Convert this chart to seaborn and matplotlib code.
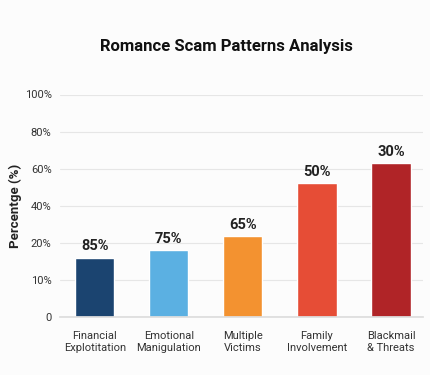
import numpy as np
import pandas as pd
import matplotlib
matplotlib.use("Agg")
import matplotlib.pyplot as plt
import seaborn as sns

categories = ["Financial\nExplotitation", "Emotional\nManigulation", "Multiple\nVictims",
              "Family\nInvolvement", "Blackmail\n& Threats"]
values = [16, 18, 23.4, 52, 63]
bar_labels = ["85%", "75%", "65%", "50%", "30%"]
colors = ["#1b4470", "#5bb0e2", "#f39230", "#e64d36", "#b02427"]
tick_values = [0, 10, 20, 40, 60, 80, 100]
tick_labels = ["0", "10%", "20%", "40%", "60%", "80%", "100%"]

sns.set_theme(style="white")
plt.rcParams['font.family'] = ['Roboto', 'DejaVu Sans']

df = pd.DataFrame({"cat": categories, "val": values})

fig = plt.figure(figsize=(4.31, 3.75), dpi=100)
fig.patch.set_facecolor("#fcfcfc")
ax = fig.add_axes([0.139, 0.155, 0.842, 0.593])
ax.set_facecolor("#fcfcfc")

pos = np.arange(len(tick_values), dtype=float)
tv = np.array(tick_values, dtype=float)

def fwd(v):
    return np.interp(v, tv, pos)

def inv(p):
    return np.interp(p, pos, tv)

ax.set_yscale("function", functions=(fwd, inv))

sns.barplot(data=df, x="cat", y="val", hue="cat", palette=colors, legend=False,
            width=0.53, ax=ax, saturation=1)

ax.set_ylim(0, 100.5)
ax.set_xlim(-0.47, 4.43)
ax.set_yticks(tick_values)
ax.set_yticklabels(tick_labels)
ax.yaxis.set_minor_locator(matplotlib.ticker.NullLocator())
ax.grid(axis="y", color="#e6e6e6", linewidth=0.8)
ax.set_axisbelow(True)
for s in ["top", "right", "left"]:
    ax.spines[s].set_visible(False)
ax.spines["bottom"].set_color("#dddddd")
ax.tick_params(axis="y", length=0, labelsize=8, colors="#333333", pad=6)
ax.tick_params(axis="x", length=0, labelsize=8, colors="#333333", pad=10)
ax.set_xticks(range(len(categories)))
ax.set_xticklabels(categories, linespacing=1.3)
ax.set_xticks(np.arange(0.5, len(categories) - 1, 1), minor=True)
ax.tick_params(axis="x", which="minor", length=3, color="#dddddd")

for i, (v, lab) in enumerate(zip(values, bar_labels)):
    ax.annotate(lab, (i, v), xytext=(0, 3), textcoords="offset points",
                ha="center", va="bottom", fontsize=10.5, fontweight="bold", color="#222222")

ax.set_xlabel("")
ax.set_ylabel("Percentge (%)", fontsize=9.5, fontweight="bold", color="#222222", labelpad=2)
fig.text(0.525, 0.877, "Romance Scam Patterns Analysis", ha="center", va="center",
         fontsize=12, fontweight="bold", color="#111111")

fig.savefig("out.png", dpi=100, facecolor=fig.get_facecolor())
